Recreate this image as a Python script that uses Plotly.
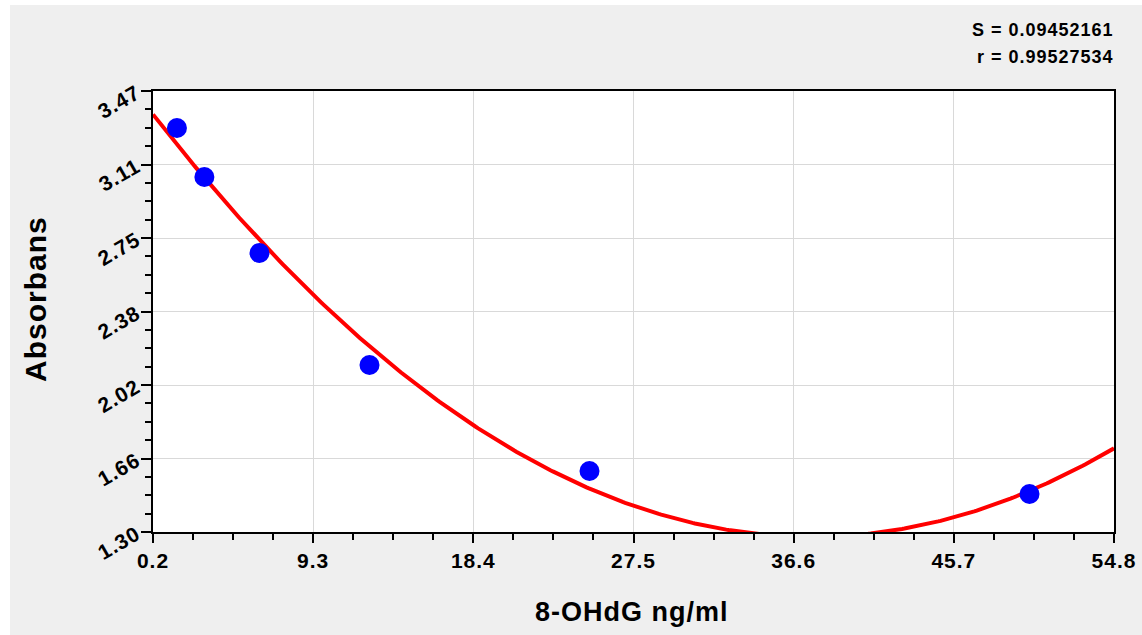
import numpy as np
import plotly.graph_objects as go

# Data
conc = [1.56, 3.12, 6.25, 12.5, 25.0, 50.0]
absorb = [3.288, 3.047, 2.673, 2.122, 1.600, 1.487]

x_ticks = [0.2, 9.3, 18.4, 27.5, 36.6, 45.7, 54.8]
y_tick_labels = ["1.30", "1.66", "2.02", "2.38", "2.75", "3.11", "3.47"]
y_min, y_max = 1.30, 3.47
stats_text = ["S = 0.09452161", "r = 0.99527534"]

# quadratic regression fit of the standard points
coef = np.polyfit(conc, absorb, 2)
xf = np.linspace(x_ticks[0], x_ticks[-1], 400)
yf = np.polyval(coef, xf)

W, H = 1142, 635
L, R, T, B = 153, 1114, 91, 532
pw, ph = R - L, B - T

ystep = (y_max - y_min) / 6
y_vals = [y_min + i * ystep for i in range(7)]

FONT = "Liberation Sans, Arial, sans-serif"


def sp(t, px=1):
    return f'<span style="letter-spacing:{px}px">{t}</span>'


fig = go.Figure()
fig.add_trace(go.Scatter(x=xf, y=yf, mode="lines",
                         line=dict(color="#ff0000", width=4), hoverinfo="skip"))
fig.add_trace(go.Scatter(x=conc, y=absorb, mode="markers",
                         marker=dict(color="#0000ff", size=20, line=dict(width=0))))

fig.update_layout(
    width=W, height=H, autosize=False,
    margin=dict(l=L, r=W - R, t=T, b=H - B, pad=0, autoexpand=False),
    paper_bgcolor="#efefef", plot_bgcolor="#ffffff",
    showlegend=False,
    font=dict(family=FONT, color="#000000"),
)
fig.update_xaxes(
    automargin=False,
    range=[x_ticks[0], x_ticks[-1]], tickmode="array", tickvals=x_ticks,
    ticktext=[sp(f"{v:.1f}") for v in x_ticks],
    tickfont=dict(family=FONT, size=21, weight="bold"),
    ticks="outside", ticklen=9, tickwidth=2, tickcolor="#000",
    showline=True, linecolor="#000", linewidth=2, mirror=True,
    showgrid=True, gridcolor="#d9d9d9", gridwidth=1, zeroline=False,
    minor=dict(tick0=x_ticks[0], dtick=(x_ticks[1] - x_ticks[0]) / 4,
               ticks="outside", ticklen=6, tickwidth=2, tickcolor="#000", showgrid=False),
)
fig.update_yaxes(
    automargin=False,
    range=[y_min, y_max], tickmode="array", tickvals=y_vals,
    ticktext=[sp(t) for t in y_tick_labels],
    tickfont=dict(family=FONT, size=21, weight="bold"), tickangle=-30,
    ticks="outside", ticklen=10, tickwidth=2, tickcolor="#000",
    showline=True, linecolor="#000", linewidth=2, mirror=True,
    showgrid=True, gridcolor="#d9d9d9", gridwidth=1, zeroline=False,
    minor=dict(tick0=y_min, dtick=ystep / 4,
               ticks="outside", ticklen=6, tickwidth=2, tickcolor="#000", showgrid=False),
)

# white strip at top / left edges of the image
fig.add_shape(type="rect", xref="paper", yref="paper",
              x0=(0 - L) / pw, x1=(10 - L) / pw, y0=(B - H) / ph, y1=(B - 0) / ph,
              fillcolor="#ffffff", line=dict(width=0), layer="below")
fig.add_shape(type="rect", xref="paper", yref="paper",
              x0=(0 - L) / pw, x1=(W - L) / pw, y0=(B - 5) / ph, y1=(B - 0) / ph,
              fillcolor="#ffffff", line=dict(width=0), layer="below")

fig.add_annotation(text=sp("Absorbans"), xref="paper", yref="paper",
                   x=(35 - L) / pw, y=(B - 299) / ph, textangle=-90,
                   showarrow=False, xanchor="center", yanchor="middle",
                   font=dict(family=FONT, size=30, weight="bold"))
fig.add_annotation(text=sp("8-OHdG ng/ml"), xref="paper", yref="paper",
                   x=(632 - L) / pw, y=(B - 612) / ph,
                   showarrow=False, xanchor="center", yanchor="middle",
                   font=dict(family=FONT, size=27, weight="bold"))
for i, t in enumerate(stats_text):
    fig.add_annotation(text=sp(t), xref="paper", yref="paper",
                       x=(1116 - L) / pw, y=(B - (30 + 27 * i)) / ph,
                       showarrow=False, xanchor="right", yanchor="middle",
                       font=dict(family=FONT, size=18, weight="bold"))

fig.write_html("out.html", config={"displayModeBar": False},
               post_script="document.body.style.margin='0';")
